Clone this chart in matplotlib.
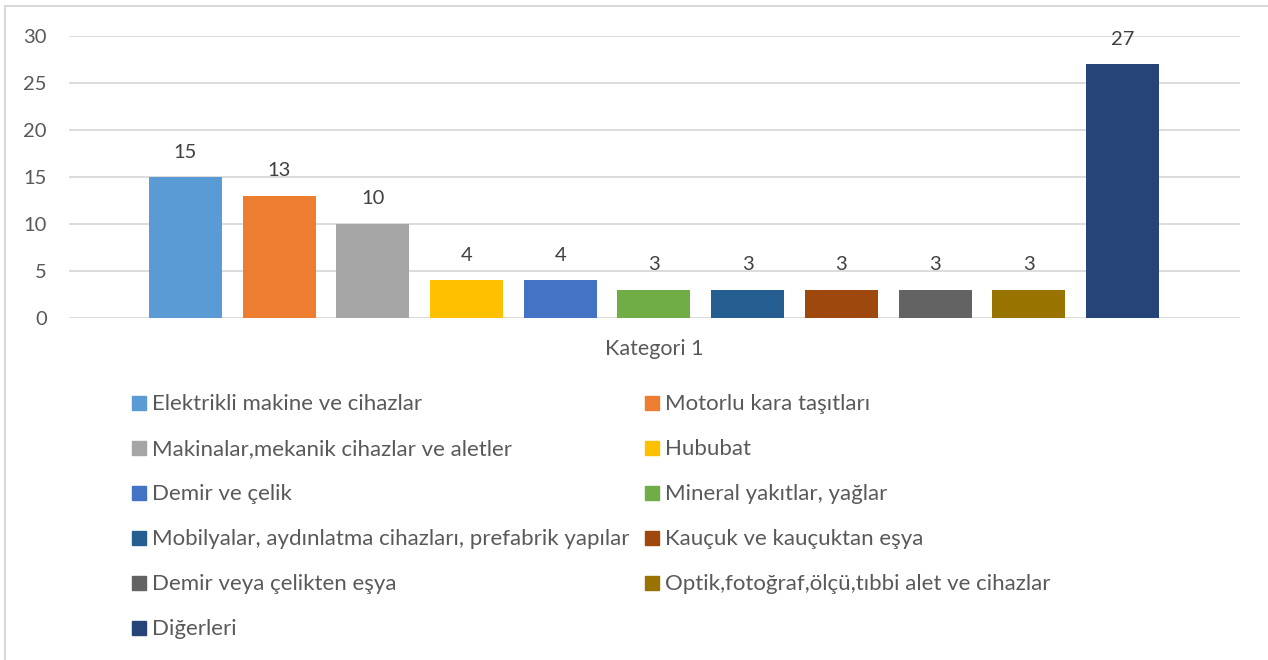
import numpy as np
import matplotlib.pyplot as plt
from matplotlib.patches import Rectangle

plt.rcParams['font.family'] = ['Lato', 'DejaVu Sans']

series = ['Elektrikli makine ve cihazlar', 'Motorlu kara taşıtları',
          'Makinalar,mekanik cihazlar ve aletler', 'Hububat',
          'Demir ve çelik', 'Mineral yakıtlar, yağlar',
          'Mobilyalar, aydınlatma cihazları, prefabrik yapılar',
          'Kauçuk ve kauçuktan eşya', 'Demir veya çelikten eşya',
          'Optik,fotoğraf,ölçü,tıbbi alet ve cihazlar', 'Diğerleri']
values = [15, 13, 10, 4, 4, 3, 3, 3, 3, 3, 27]
colors = ['#5B9BD5', '#ED7D31', '#A5A5A5', '#FFC000', '#4472C4', '#70AD47',
          '#255E91', '#9E480E', '#636363', '#997300', '#264478']
category = 'Kategori 1'
yticks = [0, 5, 10, 15, 20, 25, 30]

W, H = 1268, 660
fig = plt.figure(figsize=(W / 100, H / 100), dpi=100)
ax = fig.add_axes([69 / W, 1 - 318 / H, (1240 - 69) / W, 282 / H])

txt = '#595959'
x = np.arange(len(values))
bars = ax.bar(x, values, width=0.779, color=colors, zorder=2)
for b, v in zip(bars, values):
    ax.annotate(str(v), (b.get_x() + b.get_width() / 2, v), xytext=(0, 18),
                textcoords='offset points', ha='center', va='center',
                fontsize=14.5, color='#404040')

ax.set_xlim(-1.243, 11.254)
ax.set_ylim(0, 30)
ax.set_yticks(yticks)
ax.set_yticklabels([str(t) for t in yticks], fontsize=14.5, color=txt)
ax.set_xticks([(len(values) - 1) / 2])
ax.set_xticklabels([category], fontsize=15.5, color=txt)
ax.tick_params(length=0)
ax.tick_params(axis='y', pad=16)
ax.tick_params(axis='x', pad=15)
ax.grid(axis='y', color='#D9D9D9', linewidth=1.3, zorder=0)
for s in ax.spines.values():
    s.set_visible(False)

# legend, filled row by row like Excel
col_x = [132, 645]
row_y = [403, 448, 493, 538, 583, 628]
for i, (name, c) in enumerate(zip(series, colors)):
    px = col_x[i % 2]
    py = row_y[i // 2]
    fig.patches.append(Rectangle((px / W, 1 - (py + 7) / H), 14 / W, 14 / H,
                                 transform=fig.transFigure, color=c))
    fig.text((px + 20) / W, 1 - (py + 1) / H, name, fontsize=16, color=txt,
             va='center', ha='left')

# chart border
fig.patches.append(Rectangle((5 / W, -0.05), 1.1, 1.05 - 6 / H,
                             transform=fig.transFigure, fill=False,
                             edgecolor='#D9D9D9', linewidth=1.5))

fig.savefig('out.png', dpi=100)
